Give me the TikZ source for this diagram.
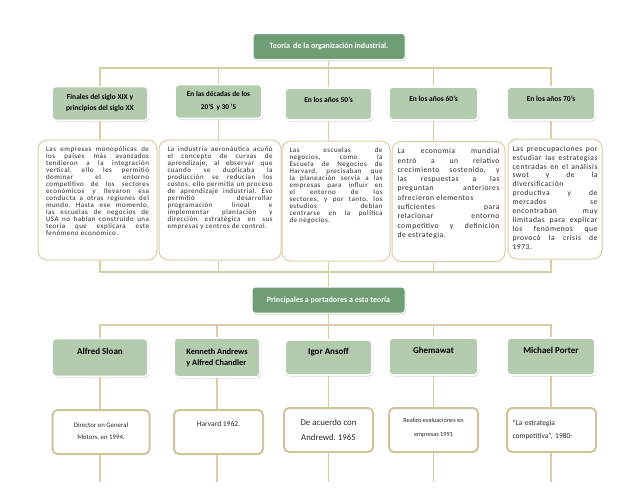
\documentclass[tikz,border=0pt]{standalone}
\usepackage{fontspec}
\setmainfont{Carlito}
\newfontfamily\bodyfont{Carlito}[LetterSpace=7]
\usetikzlibrary{shadows}

\definecolor{leafgreen}{RGB}{112,158,116}
\definecolor{sage}{RGB}{180,204,174}
\definecolor{khaki}{RGB}{216,206,166}
\definecolor{khakidark}{RGB}{206,196,154}
\definecolor{ink}{RGB}{40,40,40}

% one justified line and one plain line of a text block
\newcommand\jrow[1]{\hbox to \hsize{\spaceskip=.22em plus 1fil\relax #1}}
\newcommand\lrow[1]{\hbox{#1}}
\newcommand\textblock[2]{\vbox to 112pt{\hsize=#1\lineskiplimit=-9pt\relax\vskip 3pt #2\vss}}

\begin{document}
\frenchspacing
\begin{tikzpicture}[x=1pt,y=-1pt,
    link/.style={draw=khaki,line width=1.1pt},
    greenbox/.style={fill=leafgreen,draw=white,line width=1pt,rounded corners=3pt,
      text=white,font=\bfseries\fontsize{8}{9}\selectfont,minimum height=26pt,
      drop shadow={shadow xshift=1pt,shadow yshift=-1.5pt,opacity=.3}},
    headbox/.style={fill=sage,draw=white,line width=1.6pt,rounded corners=4pt,
      font=\bfseries\fontsize{7.5}{11}\selectfont,align=center,inner sep=2pt,
      drop shadow={shadow xshift=1pt,shadow yshift=-1.5pt,opacity=.3}},
    infobox/.style={fill=white,draw=khaki,line width=1pt,rounded corners=9pt,
      minimum height=120pt,inner sep=0pt,text=ink},
    endbox/.style={fill=white,draw=khakidark,line width=2pt,rounded corners=5pt,
      minimum height=44pt,inner sep=2pt,text=ink}]
    % heights of the three bars
    \pgfmathsetmacro{\barA}{68}
    \pgfmathsetmacro{\barB}{272}
    \pgfmathsetmacro{\barC}{325}
    \useasboundingbox (0,0) rectangle (638,493);

    \node[greenbox,minimum width=152pt] (title) at (329,46.5) {Teoría\, de la organización industrial.};

    % periods
    \node[headbox,minimum width=96pt,minimum height=34pt] (h1) at (100,103.5) {Finales del siglo XIX y\\principios del siglo XX};
    \node[headbox,minimum width=87pt,minimum height=34pt,font=\bfseries\fontsize{7.3}{13}\selectfont] (h2) at (218.5,101.5) {En las décadas de los\\20’S\, y 30 ’S};
    \node[headbox,minimum width=87pt,minimum height=32pt,text depth=8pt] (h3) at (328.5,104) {En los años 50’s};
    \node[headbox,minimum width=89pt,minimum height=33pt,text depth=9pt] (h4) at (433.5,103.5) {En los años 60’s};
    \node[headbox,minimum width=88pt,minimum height=33pt,text depth=9pt] (h5) at (551,103.5) {En los años 70’s};

    % texts
    \node[infobox,minimum width=119pt,font=\bodyfont\fontsize{7}{7}\selectfont] (t1) at (97.5,200) {\textblock{103pt}{%
      \jrow{Las empresas monopólicas de}
      \jrow{los países más avanzados}
      \jrow{tendieron a la integración}
      \jrow{vertical, ello les permitió}
      \jrow{dominar el entorno}
      \jrow{competitivo de los sectores}
      \jrow{económicos y llevaron esa}
      \jrow{conducta a otras regiones del}
      \jrow{mundo. Hasta ese momento,}
      \jrow{las escuelas de negocios de}
      \jrow{USA no habían construido una}
      \jrow{teoría que explicara este}
      \lrow{fenómeno económico.}}};
    \node[infobox,minimum width=122pt,font=\bodyfont\fontsize{7}{7}\selectfont] (t2) at (220,200) {\textblock{105pt}{%
      \jrow{La industria aeronáutica acuñó}
      \jrow{el concepto de curvas de}
      \jrow{aprendizaje, al observar que}
      \jrow{cuando se duplicaba la}
      \jrow{producción se reducían los}
      \jrow{costos, ello permitía un proceso}
      \jrow{de aprendizaje industrial. Eso}
      \jrow{permitió desarrollar}
      \jrow{programación lineal e}
      \jrow{implementar plantación y}
      \jrow{dirección estratégica en sus}
      \lrow{empresas y centros de control.}}};
    \node[infobox,minimum width=108pt,font=\bodyfont\fontsize{7}{7}\selectfont] (t3) at (336,201) {\textblock{93pt}{%
      \jrow{Las escuelas de}
      \jrow{negocios, como la}
      \jrow{Escuela de Negocios de}
      \jrow{Harvard, precisaban que}
      \jrow{la planeación servía a las}
      \jrow{empresas para influir en}
      \jrow{el entorno de los}
      \jrow{sectores, y por tanto, los}
      \jrow{estudios debían}
      \jrow{centrarse en la política}
      \lrow{de negocios.}}};
    \node[infobox,minimum width=113pt,font=\bodyfont\fontsize{7.6}{9.3}\selectfont] (t4) at (448.5,201.5) {\textblock{102pt}{%
      \jrow{La economía mundial}
      \jrow{entró a un relativo}
      \jrow{crecimiento sostenido, y}
      \jrow{las respuestas a las}
      \jrow{preguntan anteriores}
      \lrow{ofrecieron elementos}
      \jrow{suficientes para}
      \jrow{relacionar entorno}
      \jrow{competitivo y definición}
      \lrow{de estrategia.}}};
    \node[infobox,minimum width=94pt,font=\bodyfont\fontsize{7.6}{8.9}\selectfont] (t5) at (555,199) {\textblock{85pt}{%
      \jrow{Las preocupaciones por}
      \jrow{estudiar las estrategias}
      \jrow{centradas en el análisis}
      \jrow{swot y de la}
      \lrow{diversificación}
      \jrow{productiva y de}
      \jrow{mercados se}
      \jrow{encontraban muy}
      \jrow{limitadas para explicar}
      \jrow{los fenómenos que}
      \jrow{provocó la crisis de}
      \lrow{1973.}}};

    \node[greenbox,minimum width=153pt] (mid) at (328.5,300) {Principales a portadores a esta teoría};

    % authors
    \node[headbox,minimum width=96pt,minimum height=38pt,font=\bfseries\fontsize{9}{11}\selectfont,text depth=13pt] (n1) at (100,357.5) {Alfred Sloan};
    \node[headbox,minimum width=86pt,minimum height=39pt,font=\bfseries\fontsize{8.3}{11}\selectfont,align=left] (n2) at (217,357.5) {Kenneth Andrews\\y Alfred Chandler};
    \node[headbox,minimum width=87pt,minimum height=35pt,font=\bfseries\fontsize{9}{11}\selectfont,text depth=12pt] (n3) at (328.5,357.5) {Igor Ansoff};
    \node[headbox,minimum width=89pt,minimum height=37pt,font=\bfseries\fontsize{9}{11}\selectfont,text depth=13pt] (n4) at (433.5,356.5) {Ghemawat};
    \node[headbox,minimum width=88pt,minimum height=37pt,font=\bfseries\fontsize{9}{11}\selectfont,text depth=13pt] (n5) at (551,356.5) {Michael Porter};

    % what each one did
    \node[endbox,minimum width=97pt,align=center,font=\fontsize{6.8}{12}\selectfont] (e1) at (101,432) {Director en General\\Motors, en 1994.};
    \node[endbox,minimum width=89pt,font=\fontsize{7.5}{9}\selectfont,text depth=16pt] (e2) at (218.5,432) {Harvard 1962.};
    \node[endbox,minimum width=89pt,align=center,font=\fontsize{8.8}{15}\selectfont] (e3) at (328.5,430) {De acuerdo con\\Andrewd. 1965};
    \node[endbox,minimum width=89pt,align=center,font=\fontsize{6.3}{14}\selectfont,text depth=6pt] (e4) at (433.5,430) {Realizo evaluaciones en\\empresas 1991};
    \node[endbox,minimum width=89pt,align=left,font=\fontsize{7.5}{13}\selectfont,text width=78pt] (e5) at (551.5,430) {“La estrategia\\competitiva”, 1980-};

    % first bar
    \coordinate (jA) at (328.5,\barA);
    \draw[link] (title) -- (jA);
    \foreach \k in {1,...,5}
      \draw[link] (h\k.north) |- (jA);
    \foreach \k in {1,...,5}
      \draw[link] (h\k.south) -- (h\k |- t\k.north);
    % second bar
    \coordinate (jB) at (328.5,\barB);
    \foreach \k in {1,...,5}
      \draw[link] (h\k |- t\k.south) |- (jB);
    \draw[link] (jB) -- (mid);
    % third bar
    \coordinate (jC) at (328.5,\barC);
    \draw[link] (mid) -- (jC);
    \foreach \k in {1,...,5}
      \draw[link] (n\k.north) |- (jC);
    \foreach \k in {1,...,5}
      \draw[link] (n\k |- n\k.south) -- (n\k |- e\k.north);
    \coordinate (foot) at (0,482);
    \foreach \k in {1,...,5}
      \draw[link] (n\k |- e\k.south) -- (n\k |- foot);
\end{tikzpicture}
\end{document}
